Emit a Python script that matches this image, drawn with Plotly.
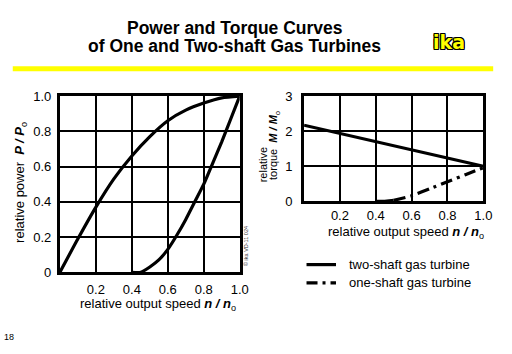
import plotly.graph_objects as go

# ---- data ----
speed = [0.0, 0.1, 0.2, 0.3, 0.4, 0.5, 0.6, 0.7, 0.8, 0.9, 1.0]
two_shaft_power = [0.0, 0.19, 0.37, 0.53, 0.66, 0.77, 0.86, 0.92, 0.96, 0.99, 1.0]

one_speed = [0.4, 0.45, 0.5, 0.55, 0.6, 0.65, 0.7, 0.75, 0.8, 0.85, 0.9, 0.95, 1.0]
one_shaft_power = [0.0, 0.0, 0.03, 0.07, 0.13, 0.21, 0.30, 0.40, 0.50, 0.62, 0.74, 0.87, 1.0]

torque_speed = [0.0, 0.2, 0.4, 0.6, 0.8, 1.0]
two_shaft_torque = [2.17, 1.94, 1.70, 1.47, 1.23, 1.0]

one_torque_speed = [0.4, 0.45, 0.5, 0.6, 0.7, 0.8, 0.9, 1.0]
one_shaft_torque = [0.0, 0.0, 0.03, 0.16, 0.36, 0.56, 0.76, 0.96]

x_ticks = [0.2, 0.4, 0.6, 0.8, 1.0]
x_ticktext = ["0.2", "0.4", "0.6", "0.8", "1.0"]
p_ticks = [0, 0.2, 0.4, 0.6, 0.8, 1.0]
p_ticktext = ["0", "0.2", "0.4", "0.6", "0.8", "1.0"]
m_ticks = [0, 1, 2, 3]
m_ticktext = ["0", "1", "2", "3"]

W, H = 512, 354
FONT = "Liberation Sans, Arial, sans-serif"

def px(x):
    return x / W

def py(y):
    return 1 - y / H

fig = go.Figure()
line_style = dict(color="black", width=3.2, shape="spline", smoothing=0.6)

fig.add_trace(go.Scatter(x=speed, y=two_shaft_power, mode="lines", line=line_style,
                         xaxis="x", yaxis="y"))
fig.add_trace(go.Scatter(x=one_speed, y=one_shaft_power, mode="lines", line=line_style,
                         xaxis="x", yaxis="y"))
fig.add_trace(go.Scatter(x=torque_speed, y=two_shaft_torque, mode="lines",
                         line=dict(color="black", width=3.2), xaxis="x2", yaxis="y2"))
fig.add_trace(go.Scatter(x=one_torque_speed[:3], y=one_shaft_torque[:3], mode="lines",
                         line=dict(color="black", width=3.2), xaxis="x2", yaxis="y2"))
fig.add_trace(go.Scatter(x=one_torque_speed[2:], y=one_shaft_torque[2:], mode="lines",
                         line=dict(color="black", width=3.2, dash="12px,5px,3px,5px",
                                   shape="spline", smoothing=0.5),
                         xaxis="x2", yaxis="y2"))

axis_common = dict(showline=True, mirror=True, linewidth=3, linecolor="black",
                   showgrid=True, gridcolor="black", gridwidth=2, zeroline=False,
                   ticks="", tickfont=dict(family=FONT, size=13, color="black"),
                   fixedrange=True)

fig.update_layout(
    width=W, height=H, autosize=False,
    margin=dict(l=0, r=0, t=0, b=0),
    paper_bgcolor="white", plot_bgcolor="white",
    showlegend=False,
    xaxis=dict(domain=[px(61), px(244)], range=[0, 1], tickvals=x_ticks,
               ticktext=x_ticktext, anchor="y", ticklabelstandoff=3, **axis_common),
    yaxis=dict(domain=[py(277), py(93)], range=[0, 1], tickvals=p_ticks,
               ticktext=p_ticktext, anchor="x", ticklabelstandoff=3, **axis_common),
    xaxis2=dict(domain=[px(309.5), px(492)], range=[0, 1], tickvals=x_ticks,
                ticktext=x_ticktext, anchor="y2", ticklabelstandoff=0, **axis_common),
    yaxis2=dict(domain=[py(203), py(93)], range=[0, 3], tickvals=m_ticks,
                ticktext=m_ticktext, anchor="x2", ticklabelstandoff=6, **axis_common),
)

ann = []
def add_text(text, x, y, size=13, angle=0, xanchor="center", yanchor="middle",
             align="center", color="black", family=FONT, **kw):
    ann.append(dict(text=text, x=px(x), y=py(y), xref="paper", yref="paper",
                    showarrow=False, textangle=angle, xanchor=xanchor, yanchor=yanchor,
                    align=align, font=dict(family=family, size=size, color=color, **kw)))

add_text("<b>Power and Torque Curves</b>", 239, 21.5, size=17.5)
add_text("<b>of One and Two-shaft Gas Turbines</b>", 239, 41, size=17.5)
add_text("<b>ika</b>", 457, 36.5, size=19, color="#FFFF00",
         family="DejaVu Sans, sans-serif",
         shadow="1px 0 0 #000, -1px 0 0 #000, 0 1px 0 #000, 0 -1px 0 #000, 1px 1px 0 #000, -1px -1px 0 #000, 1px -1px 0 #000, -1px 1px 0 #000")

add_text("relative power&nbsp;&nbsp;<b><i>P / P</i></b><sub>o</sub>", 21, 183, size=13, angle=-90)
add_text("relative output speed <b><i>n / n</i></b><sub>o</sub>", 161, 311, size=13)
add_text("relative output speed <b><i>n / n</i></b><sub>o</sub>", 413, 235, size=13)
add_text("relative", 268, 165, size=11, angle=-90)
add_text("torque&nbsp;&nbsp;<b><i>M / M</i></b><sub>o</sub>", 279, 145, size=11, angle=-90)

add_text("two-shaft gas turbine", 353, 269, size=13, xanchor="left")
add_text("one-shaft gas turbine", 353, 288, size=13, xanchor="left")
add_text("18", 9, 345, size=9)
add_text("© ika VD-11 024", 251, 250, size=5.5, angle=-90, color="#333333")

fig.update_layout(annotations=ann)

shapes = [
    dict(type="line", xref="paper", yref="paper", x0=px(13), x1=px(502), y0=py(64.5), y1=py(64.5),
         line=dict(color="#FFFF00", width=5)),
    dict(type="line", xref="paper", yref="paper", x0=px(312), x1=px(342), y0=py(269), y1=py(269),
         line=dict(color="black", width=3.2)),
    dict(type="line", xref="paper", yref="paper", x0=px(312), x1=px(342), y0=py(288), y1=py(288),
         line=dict(color="black", width=3.2, dash="11px,5px,3px,5px")),
]
fig.update_layout(shapes=shapes)

fig.write_html("out.html")
